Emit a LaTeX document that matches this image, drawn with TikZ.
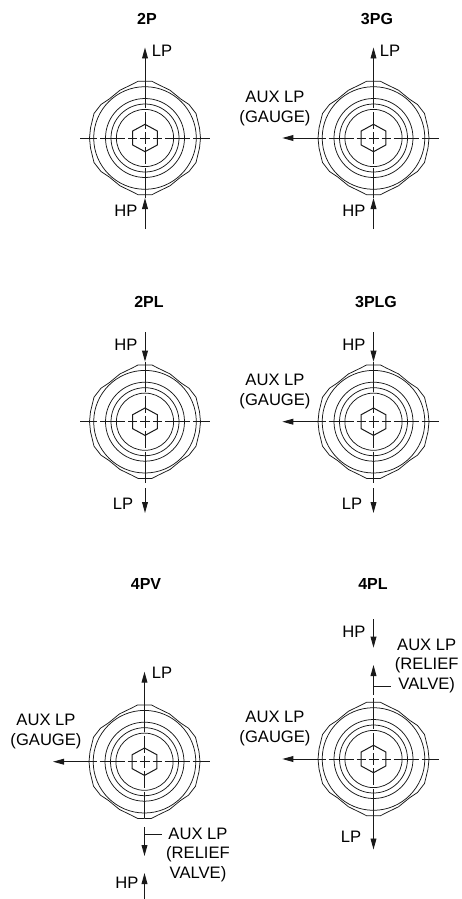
\documentclass[tikz,border=0pt]{standalone}
\usepackage{fontspec}
\setmainfont{Liberation Sans}
\usetikzlibrary{arrows.meta}

\begin{document}
\begin{tikzpicture}[
    x=1pt, y=-1pt,
    body/.style={line width=0.75pt, black!90},
    pipe/.style={line width=0.95pt, black!90},
    flow/.style={pipe, -{Triangle[length=11pt,width=5.8pt]}},
    port/.style={inner sep=0pt, align=center, font=\fontsize{16.6}{19.5}\selectfont},
    title/.style={inner sep=0pt, font=\fontsize{16}{18}\selectfont\bfseries},
    fitting/.pic={
        \foreach \sx/\sy in {1/1,-1/1,1/-1,-1/-1}
            \draw[body, xscale=\sx, yscale=\sy] (0,-56.7) -- (7,-56.7) -- (13,-53.6) -- (25,-47.8) -- (36,-38.8)
                -- (44,-33.5) -- (51,-24.5) -- (54.5,-10) -- (55.5,0);
        \foreach \r in {51.3,39.5,34,28.6}
            \draw[body] (0,0) circle[radius=\r];
        \draw[body, line width=1pt] (0,-13.7) -- (12.3,-7) -- (12.3,7) -- (0,13.7) -- (-12.3,7) -- (-12.3,-7) -- cycle;
        % centre lines
        \draw[pipe] (-45,0) -- (-20,0) (-17,0) -- (-8,0) (-5,0) -- (5,0) (8,0) -- (17,0) (20,0) -- (45,0) (48,0) -- (65,0);
        \draw[pipe] (0,-26) -- (0,-9) (0,-6) -- (0,6) (0,9) -- (0,26);
        \coordinate (-n) at (0,-30);
        \coordinate (-s) at (0,30);
        \coordinate (-w) at (-48,0);
    },
]
\useasboundingbox (0,0) rectangle (461,899);

% top row
\node[title] (t2P) at (147,19) {2P};
\pic (f2P) at (145,138) {fitting};
\coordinate (lp2Ptip) at (145,47.5);
\coordinate (hp2Ptip) at (145,198);
\coordinate (hp2Ptail) at (145,229);
\coordinate (w2Pend) at (80,138);
\node[port] (lp2P) at (162,51) {LP};
\node[port] (hp2P) at (126,211) {HP};
\draw[flow] (f2P-n) -- (lp2Ptip);
\draw[flow] (hp2Ptail) -- (hp2Ptip);
\draw[pipe] (hp2Ptip) -- (f2P-s);
\draw[pipe] (w2Pend) -- (f2P-w);

\node[title] (t3PG) at (377,19) {3PG};
\pic (f3PG) at (373.5,138) {fitting};
\coordinate (lp3PGtip) at (373.5,47.5);
\coordinate (hp3PGtip) at (373.5,198);
\coordinate (hp3PGtail) at (373.5,229);
\coordinate (aux3PGtip) at (282.3,138);
\node[port] (lp3PG) at (390,51) {LP};
\node[port] (hp3PG) at (354,211) {HP};
\node[port] (aux3PG) at (275,108.5) {AUX LP\\(GAUGE)};
\draw[flow] (f3PG-n) -- (lp3PGtip);
\draw[flow] (hp3PGtail) -- (hp3PGtip);
\draw[pipe] (hp3PGtip) -- (f3PG-s);
\draw[flow] (f3PG-w) -- (aux3PGtip);

% middle row
\node[title] (t2PL) at (149,302) {2PL};
\pic (f2PL) at (145,421.7) {fitting};
\coordinate (hp2PLtail) at (145,332);
\coordinate (hp2PLtip) at (145,361.7);
\coordinate (lp2PLend) at (145,483);
\coordinate (lp2PLtail) at (145,488);
\coordinate (lp2PLtip) at (145,513);
\coordinate (w2PLend) at (80,421.7);
\node[port] (hp2PL) at (126,345) {HP};
\node[port] (lp2PL) at (123,504) {LP};
\draw[flow] (hp2PLtail) -- (hp2PLtip);
\draw[pipe] (hp2PLtip) -- (f2PL-n);
\draw[pipe] (f2PL-s) -- (lp2PLend);
\draw[flow] (lp2PLtail) -- (lp2PLtip);
\draw[pipe] (w2PLend) -- (f2PL-w);

\node[title] (t3PLG) at (376,302) {3PLG};
\pic (f3PLG) at (373.5,421.7) {fitting};
\coordinate (hp3PLGtail) at (373.5,332);
\coordinate (hp3PLGtip) at (373.5,361.7);
\coordinate (lp3PLGend) at (373.5,483);
\coordinate (lp3PLGtail) at (373.5,488);
\coordinate (lp3PLGtip) at (373.5,513);
\coordinate (aux3PLGtip) at (282.3,421.7);
\node[port] (hp3PLG) at (354,345) {HP};
\node[port] (lp3PLG) at (352,504) {LP};
\node[port] (aux3PLG) at (275,391.5) {AUX LP\\(GAUGE)};
\draw[flow] (hp3PLGtail) -- (hp3PLGtip);
\draw[pipe] (hp3PLGtip) -- (f3PLG-n);
\draw[pipe] (f3PLG-s) -- (lp3PLGend);
\draw[flow] (lp3PLGtail) -- (lp3PLGtip);
\draw[flow] (f3PLG-w) -- (aux3PLGtip);

% bottom row
\node[title] (t4PV) at (146,584) {4PV};
\pic (f4PV) at (144.5,761.7) {fitting};
\coordinate (lp4PVtip) at (144.5,671.7);
\coordinate (rv4PVend) at (144.5,818);
\coordinate (rv4PVtail) at (144.5,827);
\coordinate (rv4PVtick) at (144.5,834.3);
\coordinate (rv4PVtip) at (144.5,856);
\coordinate (hp4PVtail) at (144.5,899);
\coordinate (hp4PVtip) at (144.5,873);
\coordinate (aux4PVtip) at (53,761.7);
\node[port] (lp4PV) at (162,673) {LP};
\node[port] (hp4PV) at (127,883) {HP};
\node[port] (aux4PV) at (46,731.5) {AUX LP\\(GAUGE)};
\node[port] (rv4PV) at (198,854.5) {AUX LP\\(RELIEF\\VALVE)};
\draw[flow] (f4PV-n) -- (lp4PVtip);
\draw[flow] (f4PV-w) -- (aux4PVtip);
\draw[pipe] (f4PV-s) -- (rv4PVend);
\draw[flow] (rv4PVtail) -- (rv4PVtip);
\draw[pipe] (rv4PVtick) -- ++(17,0);
\draw[flow] (hp4PVtail) -- (hp4PVtip);

\node[title] (t4PL) at (373,584) {4PL};
\pic (f4PL) at (373.5,759) {fitting};
\coordinate (hp4PLtail) at (373.5,619);
\coordinate (hp4PLtip) at (373.5,647.7);
\coordinate (rv4PLtip) at (373.5,665);
\coordinate (rv4PLtail) at (373.5,695);
\coordinate (rv4PLtick) at (373.5,686);
\coordinate (rv4PLend) at (373.5,698);
\coordinate (aux4PLtip) at (282.3,759);
\coordinate (lp4PLtip) at (373.5,849.5);
\node[port] (hp4PL) at (354,632) {HP};
\node[port] (lp4PL) at (351,837) {LP};
\node[port] (aux4PL) at (275,728.5) {AUX LP\\(GAUGE)};
\node[port] (rv4PL) at (426.7,665.5) {AUX LP\\(RELIEF\\VALVE)};
\draw[flow] (hp4PLtail) -- (hp4PLtip);
\draw[flow] (rv4PLtail) -- (rv4PLtip);
\draw[pipe] (rv4PLtick) -- ++(17,0);
\draw[pipe] (rv4PLend) -- (f4PL-n);
\draw[flow] (f4PL-w) -- (aux4PLtip);
\draw[flow] (f4PL-s) -- (lp4PLtip);
\end{tikzpicture}
\end{document}
